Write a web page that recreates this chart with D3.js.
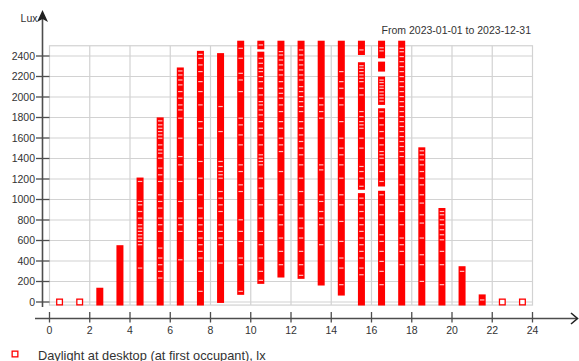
<!DOCTYPE html>
<html>
<head>
<meta charset="utf-8">
<script src="https://cdn.jsdelivr.net/npm/d3@7"></script>
<style>
  html, body { margin: 0; padding: 0; background: #fff; }
  svg { display: block; font-family: "Liberation Sans", Arial, sans-serif; }
</style>
</head>
<body>
<svg id="chart" width="579" height="361"></svg>
<script>
// Hour of day (reading plotted at the middle of the hour)
const hours = [0, 1, 2, 3, 4, 5, 6, 7, 8, 9, 10, 11, 12, 13, 14, 15, 16, 17, 18, 19, 20, 21, 22, 23];

// Daylight illuminance at the desktop over the year, lux:
// runs of densely packed daily readings per hour [low, high]
const luxRuns = [
  [[0, 0]],
  [[0, 0]],
  [[0, 105]],
  [[0, 520]],
  [[0, 1180]],
  [[0, 1767]],
  [[0, 2254]],
  [[0, 2416]],
  [[25, 2394]],
  [[104, 2515]],
  [[211, 2408], [2500, 2515]],
  [[273, 2515]],
  [[260, 2515]],
  [[195, 2515]],
  [[97, 2515]],
  [[0, 1028], [1129, 2305], [2444, 2515]],
  [[0, 1051], [1161, 1856], [1957, 2165], [2282, 2311], [2412, 2515]],
  [[0, 2515]],
  [[0, 1475]],
  [[0, 883]],
  [[0, 315]],
  [[0, 40]],
  [[0, 0]],
  [[0, 0]]
];

// Lux levels inside a run where neighbouring readings leave a thin gap
const luxGaps = [
  [], [], [], [],
  [1176, 981, 948, 883, 818, 754, 721, 689, 656, 624, 591, 559, 331],
  [1767, 1728, 1695, 1663, 1630, 1598, 1533, 1484, 1452, 1403, 1306, 1241, 1176, 1046, 981, 916, 818, 754, 689, 526, 429, 364, 299, 234],
  [2254, 2215, 2166, 2118, 2053, 1988, 1923, 1874, 1793, 1598, 1419, 1338, 1176, 981, 818, 754, 689, 412],
  [2416, 2378, 2313, 2248, 2150, 2053, 1923, 1760, 1695, 1533, 1371, 1208, 1046, 916, 818, 753, 689, 624, 559, 494, 429, 299, 104],
  [1907, 1663, 1371, 1322, 1273, 1241, 1208, 1078, 1013, 948, 883, 753, 689, 624, 559, 380],
  [2475, 2378, 2231, 2166, 2053, 1793, 1728, 1630, 1533, 1338, 1273, 1143, 1078, 802, 689, 591, 429, 364, 104],
  [2508, 2378, 2329, 2280, 2248, 2199, 2150, 2085, 2020, 1955, 1923, 1874, 1825, 1760, 1695, 1630, 1533, 1436, 1403, 1371, 1338, 1208, 1111, 948, 818, 689, 559, 429, 299, 211],
  [2443, 2410, 2361, 2313, 2264, 2215, 2150, 2085, 2036, 1988, 1923, 1858, 1760, 1695, 1598, 1533, 1468, 1273, 1046, 948, 851, 753, 624, 494, 364],
  [2459, 2410, 2361, 2313, 2264, 2215, 2166, 2101, 2053, 2004, 1955, 1907, 1858, 1760, 1695, 1630, 1566, 1501, 1436, 1338, 1208, 1078, 948, 818, 721, 624, 494, 364, 260],
  [1988, 1923, 1858, 1793, 1338, 1289, 1046, 981, 883, 818, 754, 559],
  [2248, 2150, 2085, 1988, 1923, 1760, 1598, 1501, 1436, 1338, 1208, 1046, 948, 786, 591, 429, 331, 169],
  [2459, 2305, 2280, 2248, 2215, 2183, 2150, 2085, 2020, 1858, 1809, 1760, 1728, 1695, 1598, 1501, 1322, 1273, 1208, 1129, 1013, 948, 883, 818, 754, 689, 624, 559, 494, 429, 331, 266],
  [2480, 2450, 2165, 2140, 2110, 2085, 2050, 2020, 1990, 1960, 1856, 1793, 1728, 1663, 1598, 1533, 1468, 1436, 1403, 1338, 1273, 1176, 1046, 948, 851, 754, 656, 591, 494, 396, 299, 169],
  [2475, 2442, 2394, 2345, 2296, 2248, 2199, 2150, 2101, 2053, 2004, 1955, 1907, 1858, 1809, 1760, 1712, 1663, 1614, 1566, 1517, 1468, 1419, 1338, 1241, 1143, 1046, 948, 883, 754, 624, 559, 494, 364],
  [1475, 1436, 1387, 1338, 1273, 1208, 1143, 1046, 965, 851, 770, 624, 461, 364, 201],
  [883, 851, 802, 754, 705, 656, 607, 494, 364, 169],
  [299],
  [20],
  [], []
];

const yTicks = [0, 200, 400, 600, 800, 1000, 1200, 1400, 1600, 1800, 2000, 2200, 2400];
const xTicks = [0, 2, 4, 6, 8, 10, 12, 14, 16, 18, 20, 22, 24];
const periodLabel = "From 2023-01-01 to 2023-12-31";
const yAxisLabel = "Lux";
const seriesName = "Daylight at desktop (at first occupant), lx";

const red = "#ff0000";
const gridColor = "#d2d2d2";
const axisColor = "#4d4d4d";
const textColor = "#333";
const markerSize = 7;

const svg = d3.select("#chart");

const x = d3.scaleLinear().domain([0, 24]).range([49.5, 532.5]);
const y = d3.scaleLinear().domain([0, 2400]).range([302, 56]);
const yTop = 2500, yBottom = -30;

// Plot frame and grid
const grid = svg.append("g");
grid.append("rect")
  .attr("x", x(0)).attr("y", y(yTop))
  .attr("width", x(24) - x(0)).attr("height", y(yBottom) - y(yTop))
  .attr("fill", "none").attr("stroke", gridColor).attr("stroke-width", 1.2);
grid.selectAll("line.h").data(yTicks).join("line")
  .attr("x1", x(0)).attr("x2", x(24))
  .attr("y1", d => y(d)).attr("y2", d => y(d))
  .attr("stroke", gridColor).attr("stroke-width", 1.2);
grid.selectAll("line.v").data(xTicks.slice(1, -1)).join("line")
  .attr("x1", d => x(d)).attr("x2", d => x(d))
  .attr("y1", y(yTop)).attr("y2", y(yBottom))
  .attr("stroke", gridColor).attr("stroke-width", 1.2);

// Y axis with upward arrow
const yAxisX = 42.5;
svg.append("line")
  .attr("x1", yAxisX).attr("x2", yAxisX).attr("y1", 16).attr("y2", 307)
  .attr("stroke", axisColor).attr("stroke-width", 1.6);
svg.append("path")
  .attr("d", `M${yAxisX},10 L${yAxisX + 5.5},22 L${yAxisX},19 L${yAxisX - 5.5},22 Z`)
  .attr("fill", "#222");
svg.selectAll("line.ytick").data(yTicks).join("line")
  .attr("x1", 36).attr("x2", x(0))
  .attr("y1", d => y(d)).attr("y2", d => y(d))
  .attr("stroke", axisColor).attr("stroke-width", 1.3);
svg.selectAll("text.ylab").data(yTicks).join("text")
  .attr("x", 35).attr("y", d => y(d) + 3.7)
  .attr("text-anchor", "end").attr("font-size", 10.5).attr("fill", textColor)
  .text(d => d);
svg.append("text")
  .attr("x", 37.5).attr("y", 22)
  .attr("text-anchor", "end").attr("font-size", 10.5).attr("fill", textColor)
  .text(yAxisLabel);

// X axis with arrow
const xAxisY = 318.5;
svg.append("line")
  .attr("x1", 35).attr("x2", 577).attr("y1", xAxisY).attr("y2", xAxisY)
  .attr("stroke", axisColor).attr("stroke-width", 1.6);
svg.append("path")
  .attr("d", `M571,${xAxisY - 5.5} L577.5,${xAxisY} L571,${xAxisY + 5.5}`)
  .attr("fill", "none").attr("stroke", "#222").attr("stroke-width", 1.6);
svg.selectAll("line.xtick").data(xTicks).join("line")
  .attr("x1", d => x(d)).attr("x2", d => x(d))
  .attr("y1", xAxisY - 6.5).attr("y2", xAxisY + 4)
  .attr("stroke", axisColor).attr("stroke-width", 1.3);
svg.selectAll("text.xlab").data(xTicks).join("text")
  .attr("x", d => x(d)).attr("y", 334)
  .attr("text-anchor", "middle").attr("font-size", 10.5).attr("fill", textColor)
  .text(d => d);

// Readings: each dense run draws as a solid stack of square markers
const half = markerSize / 2;
const cols = svg.append("g");
hours.forEach((h, i) => {
  const cx = x(h + 0.5);
  luxRuns[i].forEach(([lo, hi]) => {
    if (lo === hi) {
      cols.append("rect")
        .attr("x", cx - half + 0.65).attr("y", y(hi) - half + 0.65)
        .attr("width", markerSize - 1.3).attr("height", markerSize - 1.3)
        .attr("fill", "#fff").attr("stroke", red).attr("stroke-width", 1.3);
    } else {
      cols.append("rect")
        .attr("x", cx - half).attr("y", y(hi) - half)
        .attr("width", markerSize).attr("height", y(lo) - y(hi) + markerSize)
        .attr("fill", red);
    }
  });
  cols.selectAll(null).data(luxGaps[i]).join("rect")
    .attr("x", cx - 2.2).attr("y", d => y(d) - 0.6)
    .attr("width", 4.4).attr("height", 1.2)
    .attr("fill", "#fff").attr("opacity", 0.75);
});

// Period caption
svg.append("text")
  .attr("x", 531).attr("y", 34)
  .attr("text-anchor", "end").attr("font-size", 10.5).attr("fill", textColor)
  .text(periodLabel);

// Legend
svg.append("rect")
  .attr("x", 15 - half + 0.65).attr("y", 354 - half + 0.65)
  .attr("width", markerSize - 1.3).attr("height", markerSize - 1.3)
  .attr("fill", "#fff").attr("stroke", red).attr("stroke-width", 1.3);
svg.append("text")
  .attr("x", 38).attr("y", 359.5)
  .attr("font-size", 12.8).attr("fill", textColor)
  .text(seriesName);
</script>
</body>
</html>
